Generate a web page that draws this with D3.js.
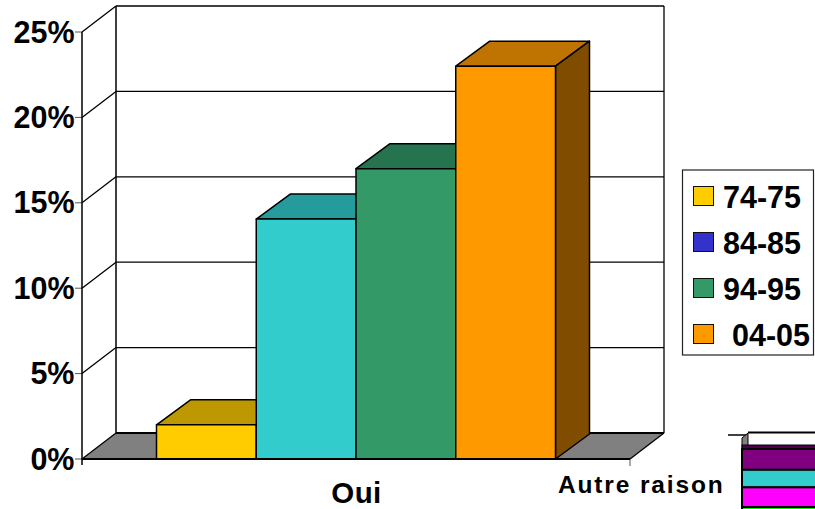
<!DOCTYPE html>
<html><head><meta charset="utf-8">
<script src="https://cdn.jsdelivr.net/npm/d3@7"></script>
<style>
html,body{margin:0;padding:0;background:#fff;overflow:hidden}
text{font-family:"Liberation Sans",Arial,sans-serif;font-weight:bold;fill:#000}
</style></head><body><svg id="c" width="815" height="509"></svg>
<script>
const seriesNames=["74-75","84-85","94-95"," 04-05"];
const legendColors=["#FFCC00","#3333CC","#339966","#FF9900"];
const barColors=["#FFCC00","#33CCCC","#339966","#FF9900"];
const barTops=["#BD9800","#259B9B","#267350","#BF7300"];
const sideColor="#804D00";
const ouiValues=[2.0,14.05,17.0,23.0];
const yTicks=[0,5,10,15,20,25];
const yTickLabels=["0%","5%","10%","15%","20%","25%"];
const categories=["Oui","Autre raison"];
const miniValues=[19,16,18,10];
const miniColors=["#800080","#33CCCC","#FF00FF","#00FF00"];

const svg=d3.select("#c");
const y=d3.scaleLinear().domain([0,25]).range([459,32]);
const x0=82,x1=630,dx=34,dy=-26,barDy=-25;
const xBars=d3.scaleBand().domain(d3.range(4)).range([156.5,555.5]);
const pts=a=>a.map(p=>p.join(",")).join(" ");
const line=(a,b,c,d,w=1.5,col="#000")=>svg.append("line").attr("x1",a).attr("y1",b).attr("x2",c).attr("y2",d).attr("stroke",col).attr("stroke-width",w);

svg.append("polygon").attr("points",pts([[x0,y(0)],[x0+dx,y(0)+dy],[x1+dx,y(0)+dy],[x1,y(0)]])).attr("fill","#808080");
yTicks.forEach(t=>{
  line(x0+dx,y(t)+dy,x1+dx,y(t)+dy,t==0?2:1.3);
  line(x0,y(t),x0+dx,y(t)+dy,1.3);
  line(x0-7,y(t),x0,y(t),1,"#555");
});
line(x0,y(25),x0,y(0)+6,1.5);
line(x0+dx,y(25)+dy,x0+dx,y(0)+dy,1.5);
line(x1+dx,y(25)+dy,x1+dx,y(0)+dy,1.3);
line(x1+dx,y(0)+dy,x1,y(0),1.3);
line(x1,y(0),x1,y(0)+7,1,"#555");

ouiValues.forEach((v,i)=>{
  const l=xBars(i),r=l+xBars.bandwidth(),t=y(v),b=y(0);
  const g=svg.append("g").attr("stroke","#000").attr("stroke-width",1.5).attr("stroke-linejoin","round");
  g.append("polygon").attr("points",pts([[l,t],[l+dx,t+barDy],[r+dx,t+barDy],[r,t]])).attr("fill",barTops[i]);
  if(i==3) g.append("polygon").attr("points",pts([[r,t],[r+dx,t+barDy],[r+dx,b+barDy],[r,b]])).attr("fill",sideColor);
  g.append("rect").attr("x",l).attr("y",t).attr("width",r-l).attr("height",b-t).attr("fill",barColors[i]);
});
line(x0,y(0),x1,y(0),2);

svg.selectAll(".yl").data(yTicks).enter().append("text").attr("class","yl")
  .attr("x",74.5).attr("y",d=>y(d)+10.5).attr("text-anchor","end").attr("font-size",30.5)
  .text((d,i)=>yTickLabels[i]);

svg.append("text").attr("x",356.5).attr("y",502.5).attr("text-anchor","middle").attr("font-size",29.5).attr("letter-spacing",0.4).text(categories[0]);
svg.append("text").attr("x",558).attr("y",493).attr("font-size",24.5).attr("letter-spacing",1.85).text(categories[1]);

svg.append("rect").attr("x",682.5).attr("y",170).attr("width",131).attr("height",185).attr("fill","#fff").attr("stroke","#222").attr("stroke-width",1.2);
const ly=d3.scalePoint().domain(d3.range(4)).range([196,334]);
seriesNames.forEach((n,i)=>{
  svg.append("rect").attr("x",693.5).attr("y",ly(i)-9.5).attr("width",20).attr("height",19).attr("fill",legendColors[i]).attr("stroke","#111").attr("stroke-width",1);
  svg.append("text").attr("x",n.startsWith(" ")?732:723).attr("y",ly(i)+11.5).attr("font-size",30.5).text(n.trim());
});

const my=d3.scaleLinear().domain([0,63]).range([449,518]);
line(728,435,748,435,1.5);
svg.append("polygon").attr("points",pts([[742,438],[748,433],[748,445],[742,449]])).attr("fill","#808080").attr("stroke","#000").attr("stroke-width",1);
line(748,432.5,815,432.5,2);
svg.append("rect").attr("x",742).attr("y",445).attr("width",80).attr("height",4.5).attr("fill","#4d004d").attr("stroke","#000").attr("stroke-width",1);
let acc=0;
miniValues.forEach((v,i)=>{
  svg.append("rect").attr("x",742).attr("y",my(acc)).attr("width",80).attr("height",my(acc+v)-my(acc)).attr("fill",miniColors[i]).attr("stroke","#000").attr("stroke-width",2);
  acc+=v;
});
</script></body></html>
